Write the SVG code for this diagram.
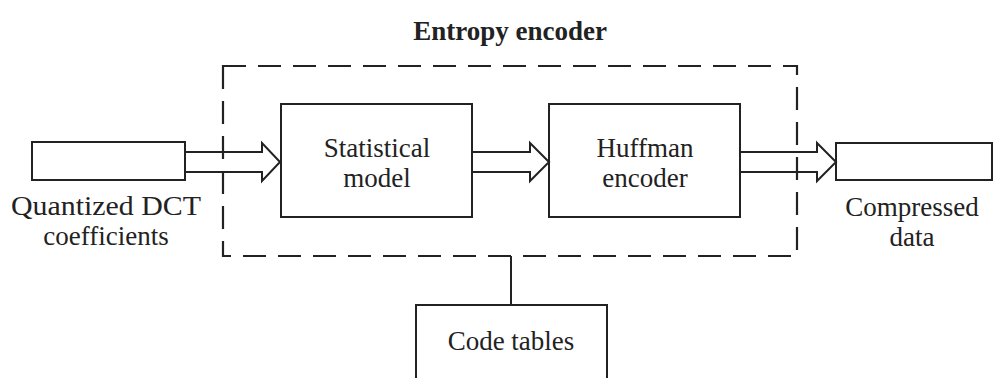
<svg xmlns="http://www.w3.org/2000/svg" width="993" height="378" viewBox="0 0 993 378">
<style>
.box{fill:#fff;stroke:#222;stroke-width:2}
.ln{fill:none;stroke:#222;stroke-width:2}
.dash{fill:none;stroke:#222;stroke-width:2.2;stroke-dasharray:23 12}
.t{font-family:"Liberation Serif","Times New Roman",serif;fill:#222;text-anchor:middle;font-size:27px}
.title{font-weight:bold;font-size:27px}
</style>
<rect width="993" height="378" fill="#fff"/>
<text class="t title" x="510" y="40">Entropy encoder</text>
<g id="encoder-boundary">
<rect class="dash" x="223" y="66" width="574" height="190"/>
</g>
<g id="input">
<rect class="box" x="32" y="142" width="153" height="38"/>
<text class="t" x="106" y="215" textLength="190" lengthAdjust="spacingAndGlyphs">Quantized DCT</text>
<text class="t" x="106" y="245">coefficients</text>
</g>
<g id="stat-model">
<rect class="box" x="281" y="104" width="191" height="113"/>
<text class="t" x="377" y="157">Statistical</text>
<text class="t" x="377" y="187">model</text>
</g>
<g id="huffman">
<rect class="box" x="549" y="104" width="191" height="113"/>
<text class="t" x="645" y="157">Huffman</text>
<text class="t" x="645" y="187">encoder</text>
</g>
<g id="output">
<rect class="box" x="836" y="143" width="156" height="37"/>
<text class="t" x="912" y="216">Compressed</text>
<text class="t" x="912" y="246">data</text>
</g>
<g id="code-tables">
<rect class="box" x="416" y="305" width="191" height="80"/>
<text class="t" x="511" y="350">Code tables</text>
</g>
<g id="connectors">
<path class="ln" d="M185,152 H262 V143 L280,162 L262,181 V172 H185"/>
<path class="ln" d="M472,152 H530 V143 L549,162 L530,181 V172 H472"/>
<path class="ln" d="M740,152 H817 V143 L836,162 L817,181 V172 H740"/>
<line class="ln" x1="511" y1="256" x2="511" y2="305"/>
</g>
</svg>
